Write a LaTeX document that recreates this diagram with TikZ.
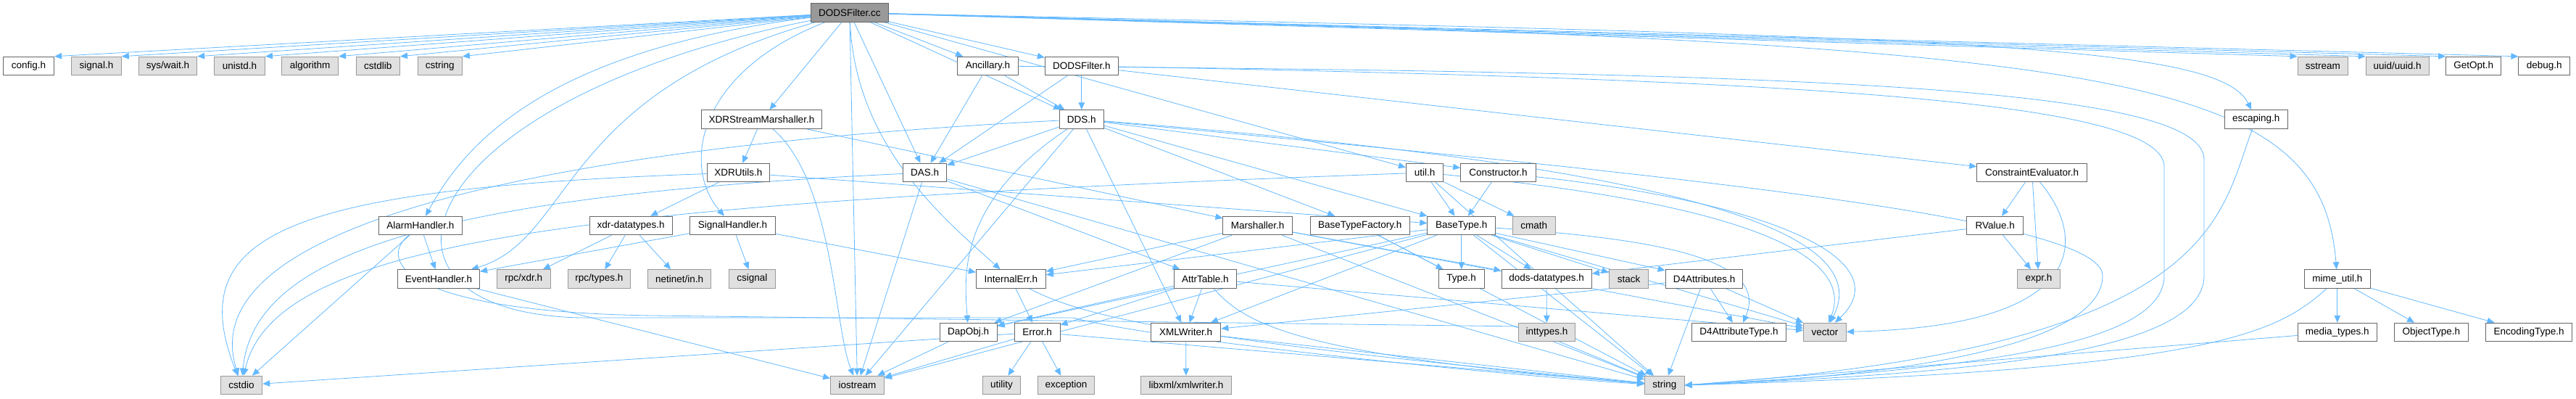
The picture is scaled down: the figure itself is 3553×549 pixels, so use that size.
\documentclass[tikz,border=0pt]{standalone}
\usepackage{fontspec}
\setmainfont{Liberation Sans}
\usepackage{xcolor}
\usetikzlibrary{arrows.meta, backgrounds}
\definecolor{edgeblue}{HTML}{63B8FF}
\definecolor{sysgray}{HTML}{E0E0E0}
\definecolor{rootgray}{HTML}{999999}

\begin{document}
\begin{tikzpicture}[
    x=1pt, y=-1pt,
    hdr/.style={draw=black!60, fill=white, line width=1pt, minimum width=#1,
                minimum height=25.5pt, inner sep=0pt, font=\fontsize{13.5}{16}\selectfont},
    ext/.style={hdr=#1, draw=black!40, fill=sysgray},
    rootbox/.style={hdr=#1, fill=rootgray},
    dep/.style={-{Triangle[length=10pt, width=8.5pt]}, color=edgeblue, line width=0.8pt}
]
\useasboundingbox (0,0) rectangle (3553,549);

% Root
\node[rootbox=106.5pt] (root) at (1171.8, 17.5) {DODSFilter.cc};

% Row 1
\node[hdr=70pt] (config) at (39.6, 91) {config.h};
\node[ext=68.5pt] (signal) at (133, 91) {signal.h};
\node[ext=80.4pt] (syswait) at (231.5, 91) {sys/wait.h};
\node[ext=70pt] (unistd) at (330.5, 91) {unistd.h};
\node[ext=77.7pt] (algorithm) at (427.7, 91) {algorithm};
\node[ext=60.5pt] (cstdlib) at (521.3, 91) {cstdlib};
\node[ext=61.4pt] (cstring) at (606.7, 91) {cstring};
\node[hdr=84.2pt] (ancillary) at (1362.4, 91) {Ancillary.h};
\node[hdr=101pt] (dodsfilterh) at (1491.8, 91) {DODSFilter.h};
\node[ext=69.6pt] (sstream) at (3203.8, 91) {sstream};
\node[ext=87pt] (uuid) at (3306.7, 91) {uuid/uuid.h};
\node[hdr=76.2pt] (getopt) at (3411.7, 91) {GetOpt.h};
\node[hdr=70.8pt] (debug) at (3509.3, 91) {debug.h};

% Row 2
\node[hdr=166.5pt] (xdrsm) at (1050.5, 164.5) {XDRStreamMarshaller.h};
\node[hdr=61.2pt] (dds) at (1491.8, 164.5) {DDS.h};
\node[hdr=87pt] (escaping) at (3111.8, 164.5) {escaping.h};

% Row 3
\node[hdr=86.8pt] (xdrutils) at (1018.4, 238) {XDRUtils.h};
\node[hdr=60.1pt] (das) at (1275.7, 238) {DAS.h};
\node[hdr=51.3pt] (util) at (1965, 238) {util.h};
\node[hdr=103.3pt] (constructor) at (2066.4, 238) {Constructor.h};
\node[hdr=151.6pt] (constraint) at (2802.6, 238) {ConstraintEvaluator.h};

% Row 4
\node[hdr=115pt] (alarmh) at (579.9, 311) {AlarmHandler.h};
\node[hdr=113.7pt] (xdrdt) at (870.2, 311) {xdr-datatypes.h};
\node[hdr=117.9pt] (signalh) at (1010.5, 311) {SignalHandler.h};
\node[hdr=95.5pt] (marshaller) at (1734.7, 311) {Marshaller.h};
\node[hdr=137.4pt] (btfactory) at (1875.7, 311) {BaseTypeFactory.h};
\node[hdr=93.7pt] (basetype) at (2015.7, 311) {BaseType.h};
\node[ext=59pt] (cmath) at (2115.8, 311) {cmath};
\node[hdr=77.7pt] (rvalue) at (2751.8, 311) {RValue.h};

% Row 5
\node[hdr=113.1pt] (eventh) at (605, 384.5) {EventHandler.h};
\node[ext=73.5pt] (rpcxdr) at (722.3, 384.5) {rpc/xdr.h};
\node[ext=86.5pt] (rpctypes) at (826.4, 384.5) {rpc/types.h};
\node[ext=86.9pt] (netinet) at (937.2, 384.5) {netinet/in.h};
\node[ext=64.3pt] (csignal) at (1037.3, 384.5) {csignal};
\node[hdr=96pt] (internalerr) at (1394.4, 384.5) {InternalErr.h};
\node[hdr=86.5pt] (attrtable) at (1662.4, 384.5) {AttrTable.h};
\node[hdr=63.1pt] (type) at (2015.7, 384.5) {Type.h};
\node[hdr=124.4pt] (dodsdt) at (2133.2, 384.5) {dods-datatypes.h};
\node[ext=54pt] (stack) at (2246.5, 384.5) {stack};
\node[hdr=106.6pt] (d4attr) at (2350.5, 384.5) {D4Attributes.h};
\node[ext=59.3pt] (expr) at (2812, 384.5) {expr.h};
\node[hdr=90.4pt] (mime) at (3223.8, 384.5) {mime\_util.h};

% Row 6
\node[hdr=78.9pt] (dapobj) at (1335.6, 458) {DapObj.h};
\node[hdr=62.8pt] (error) at (1430.6, 458) {Error.h};
\node[hdr=96.4pt] (xmlwriter) at (1635.7, 458) {XMLWriter.h};
\node[ext=78.8pt] (inttypes) at (2133.4, 458) {inttypes.h};
\node[hdr=129.3pt] (d4attrtype) at (2398.5, 458) {D4AttributeType.h};
\node[ext=58.9pt] (vector) at (2517, 458) {vector};
\node[hdr=109.6pt] (media) at (3223.8, 458) {media\_types.h};
\node[hdr=102.1pt] (objtype) at (3353.4, 458) {ObjectType.h};
\node[hdr=119.2pt] (enctype) at (3488.1, 458) {EncodingType.h};

% Row 7
\node[ext=57.5pt] (cstdio) at (333, 531) {cstdio};
\node[ext=73.7pt] (iostream) at (1182.5, 531) {iostream};
\node[ext=51.6pt] (utility) at (1381.4, 531) {utility};
\node[ext=78.1pt] (exception) at (1470.4, 531) {exception};
\node[ext=124.3pt] (libxml) at (1635.9, 531) {libxml/xmlwriter.h};
\node[ext=54.7pt] (string) at (2295.9, 531) {string};

\begin{scope}[on background layer]
% DODSFilter.cc
\draw[dep] (root) -- (config.north east);
\draw[dep] (root) -- (signal.north east);
\draw[dep] (root) -- (syswait.north east);
\draw[dep] (root) -- (unistd.north east);
\draw[dep] (root) -- (algorithm.north east);
\draw[dep] (root) -- (cstdlib.north east);
\draw[dep] (root) -- (cstring.north east);
\draw[dep] (root) -- (sstream.north west);
\draw[dep] (root) -- (uuid.north west);
\draw[dep] (root) -- (getopt.north west);
\draw[dep] (root) -- (debug.north west);
\draw[dep] (root) -- (ancillary);
\draw[dep] (root) -- (dodsfilterh);
\draw[dep] (root) -- (dds);
\draw[dep] (root) -- (das);
\draw[dep] (root) -- (xdrsm);
\draw[dep] (root) -- (util);
\draw[dep] (root) .. controls (1180,200) and (1300,300) .. (internalerr);
\draw[dep] (root) -- (iostream);
\draw[dep] (root) .. controls (960,100) and (940,230) .. (signalh);
\draw[dep] (root) .. controls (770,130) and (790,330) .. (eventh);
\draw[dep] (root) .. controls (750,70) and (640,200) .. (alarmh);
\draw[dep] (root) .. controls (2700,50) and (3060,60) .. (escaping);
\draw[dep] (root) .. controls (2900,60) and (3200,90) .. (mime);
\draw[dep] (root) .. controls (560,140) and (470,430) .. (800,438)
    -- (1480,438) .. controls (1600,470) and (2100,520) .. (string);

% Row 1
\draw[dep] (ancillary) -- (das);
\draw[dep] (ancillary) -- (dds);
\draw[dep] (ancillary) .. controls (2500,100) and (3040,120) .. (3040,220)
    -- (3040,380) .. controls (3040,490) and (2700,515) .. (string.east);
\draw[dep] (dodsfilterh) -- (dds);
\draw[dep] (dodsfilterh) -- (das);
\draw[dep] (dodsfilterh) -- (constraint);
\draw[dep] (dodsfilterh) .. controls (2500,110) and (2985,140) .. (2985,230)
    -- (2985,380) .. controls (2985,480) and (2700,510) .. (string.east);

% Row 2
\draw[dep] (xdrsm) -- (xdrutils);
\draw[dep] (xdrsm) -- (marshaller);
\draw[dep] (xdrsm) .. controls (1150,250) and (1150,450) .. (iostream);
\draw[dep] (dds) -- (das);
\draw[dep] (dds) .. controls (1320,280) and (1330,380) .. (dapobj);
\draw[dep] (dds) -- (iostream);
\draw[dep] (dds) -- (xmlwriter);
\draw[dep] (dds) -- (basetype);
\draw[dep] (dds) -- (btfactory);
\draw[dep] (dds) -- (constructor);
\draw[dep] (dds) .. controls (2200,220) and (2600,300) .. (vector);
\draw[dep] (dds) .. controls (2300,240) and (2900,300) .. (2900,380)
    .. controls (2900,480) and (2600,520) .. (string.east);
\draw[dep] (dds) .. controls (800,200) and (260,300) .. (cstdio);

% Row 3
\draw[dep] (xdrutils) -- (xdrdt);
\draw[dep] (xdrutils) -- (basetype);
\draw[dep] (xdrutils) .. controls (400,260) and (250,320) .. (cstdio);
\draw[dep] (das) .. controls (600,270) and (350,350) .. (cstdio);
\draw[dep] (das) -- (iostream);
\draw[dep] (das) -- (attrtable);
\draw[dep] (das) -- (string);
\draw[dep] (util) .. controls (800,280) and (380,330) .. (cstdio);
\draw[dep] (util) -- (basetype);
\draw[dep] (util) -- (cmath);
\draw[dep] (util) .. controls (2400,280) and (2560,350) .. (vector);
\draw[dep] (util) -- (string);
\draw[dep] (constructor) -- (basetype);
\draw[dep] (constructor) .. controls (2450,280) and (2620,360) .. (vector);
\draw[dep] (constraint) -- (rvalue);
\draw[dep] (constraint) -- (expr);
\draw[dep] (constraint) .. controls (2880,330) and (2880,450) .. (vector);

% Row 4
\draw[dep] (alarmh) -- (eventh);
\draw[dep] (alarmh) -- (cstdio);
\draw[dep] (alarmh) .. controls (520,360) and (560,430) .. (900,435) -- (2100,450) -- (string);
\draw[dep] (xdrdt) -- (rpcxdr);
\draw[dep] (xdrdt) -- (rpctypes);
\draw[dep] (xdrdt) -- (netinet);
\draw[dep] (signalh) -- (csignal);
\draw[dep] (signalh) -- (eventh);
\draw[dep] (signalh) -- (internalerr);
\draw[dep] (marshaller) -- (internalerr);
\draw[dep] (marshaller) -- (dapobj);
\draw[dep] (marshaller) -- (dodsdt);
\draw[dep] (marshaller) -- (string);
\draw[dep] (marshaller) -- (vector);
\draw[dep] (btfactory) -- (type);
\draw[dep] (btfactory) -- (string);
\draw[dep] (basetype) -- (type);
\draw[dep] (basetype) -- (dodsdt);
\draw[dep] (basetype) -- (stack);
\draw[dep] (basetype) -- (d4attr);
\draw[dep] (basetype) -- (internalerr);
\draw[dep] (basetype) -- (dapobj);
\draw[dep] (basetype) -- (xmlwriter);
\draw[dep] (basetype) -- (string);
\draw[dep] (basetype) -- (vector);
\draw[dep] (basetype) .. controls (2300,330) and (2440,360) .. (d4attrtype);
\draw[dep] (basetype) -- (iostream);
\draw[dep] (rvalue) -- (expr);
\draw[dep] (rvalue) -- (dodsdt);

% Row 5
\draw[dep] (eventh) -- (iostream);
\draw[dep] (internalerr) -- (error);
\draw[dep] (internalerr) .. controls (1500,440) and (1650,470) .. (string);
\draw[dep] (attrtable) -- (xmlwriter);
\draw[dep] (attrtable) -- (error);
\draw[dep] (attrtable) -- (dapobj);
\draw[dep] (attrtable) .. controls (1720,450) and (1800,490) .. (string);
\draw[dep] (attrtable) -- (vector);
\draw[dep] (dodsdt) -- (inttypes);
\draw[dep] (d4attr) -- (d4attrtype);
\draw[dep] (d4attr) -- (vector);
\draw[dep] (d4attr) -- (xmlwriter);
\draw[dep] (d4attr) -- (string);
\draw[dep] (mime) -- (media);
\draw[dep] (mime) -- (objtype);
\draw[dep] (mime) -- (enctype);
\draw[dep] (mime) .. controls (3140,460) and (3050,510) .. (string.east);

% Row 6
\draw[dep] (dapobj) -- (iostream);
\draw[dep] (error) -- (cstdio);
\draw[dep] (error) -- (iostream);
\draw[dep] (error) -- (utility);
\draw[dep] (error) -- (exception);
\draw[dep] (error) -- (string);
\draw[dep] (xmlwriter) -- (libxml);
\draw[dep] (xmlwriter) -- (string);
\draw[dep] (media) -- (string.east);
\draw[dep] (escaping) .. controls (3060,300) and (3060,480) .. (string.east);
\end{scope}
\end{tikzpicture}
\end{document}
